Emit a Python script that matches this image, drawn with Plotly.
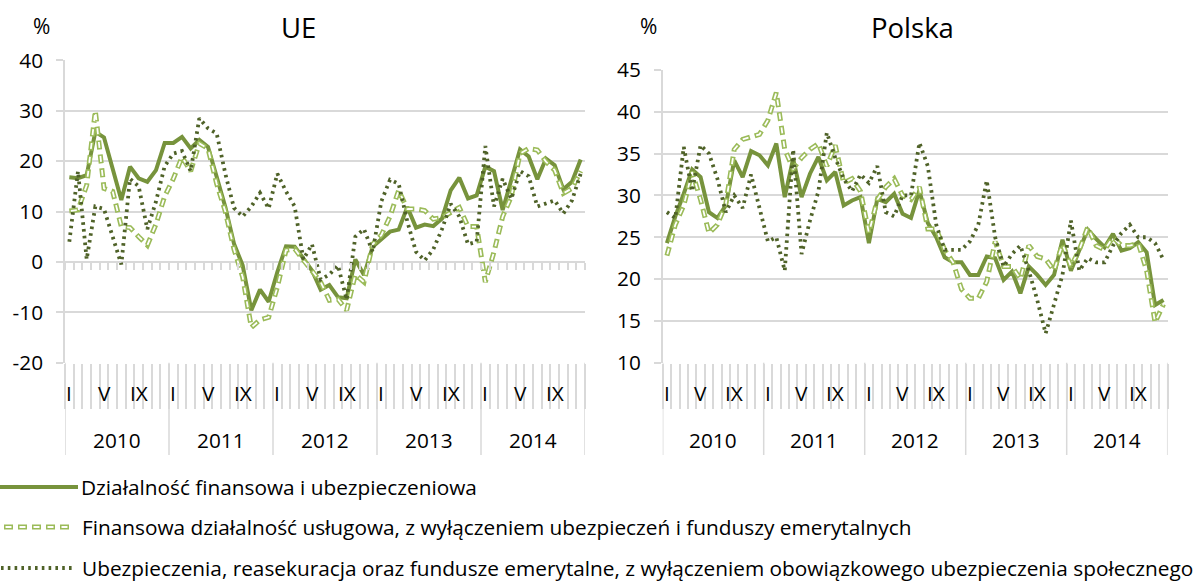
import plotly.graph_objects as go

# ---------------- data ----------------
years = ["2010", "2011", "2012", "2013", "2014"]
month_labels = ["I", "II", "III", "IV", "V", "VI", "VII", "VIII", "IX", "X", "XI", "XII"]
shown_months = ["I", "V", "IX"]
ue_ticks = [-20, -10, 0, 10, 20, 30, 40]
ue_ticklabels = ["-20", "-10", "0", "10", "20", "30", "40"]
pl_ticks = [10, 15, 20, 25, 30, 35, 40, 45]
pl_ticklabels = ["10", "15", "20", "25", "30", "35", "40", "45"]

series_names = [
    "Działalność finansowa i ubezpieczeniowa",
    "Finansowa działalność usługowa, z wyłączeniem ubezpieczeń i funduszy emerytalnych",
    "Ubezpieczenia, reasekuracja oraz fundusze emerytalne, z wyłączeniem obowiązkowego ubezpieczenia społecznego",
]

ue_fin = [16.8, 16.6, 17.2, 25.8, 24.7, 18.5, 12.3, 18.9, 16.6, 15.9,
          18.2, 23.6, 23.6, 24.8, 22.5, 24.2, 22.8, 16.9, 10.9, 3.6,
          -0.7, -9.6, -5.5, -7.9, -2.0, 3.1, 3.0, 0.7, -1.7, -5.5,
          -4.6, -7.0, -7.2, 0.5, -2.6, 3.0, 4.6, 6.0, 6.4, 10.9,
          6.8, 7.4, 7.1, 8.6, 14.2, 16.7, 12.6, 13.2, 18.9, 18.0,
          10.3, 16.2, 22.3, 20.9, 16.4, 20.5, 19.2, 14.4, 15.9, 20.3]

ue_serv = [10.1, 10.3, 15.2, 30.0, 14.6, 14.0, 7.0, 6.8, 5.0, 3.3,
           7.5, 13.0, 16.5, 20.8, 18.0, 23.5, 22.5, 15.5, 10.0, 2.5,
           -3.0, -13.0, -11.5, -11.0, -5.0, 2.3, 2.6, 0.3, -1.7, -4.0,
           -7.6, -7.4, -9.6, -2.5, -4.0, 3.5, 5.3, 9.0, 14.2, 10.5,
           10.5, 10.2, 8.5, 8.8, 9.8, 10.8, 7.0, 7.0, -4.0, 2.0,
           9.0, 13.0, 21.5, 22.5, 22.2, 19.9, 18.2, 13.6, 14.6, 18.0]

ue_ins = [4.0, 18.0, 0.5, 11.0, 10.5, 5.0, -0.5, 16.5, 15.0, 6.5,
          12.0, 19.0, 21.5, 22.0, 18.0, 28.5, 26.5, 25.5, 17.5, 10.7,
          9.0, 11.0, 13.7, 10.6, 17.5, 14.0, 11.0, 0.5, 3.5, -3.5,
          -2.5, -0.7, -7.5, 5.0, 6.5, 2.0, 12.0, 16.3, 15.5, 8.0,
          2.0, 0.3, 2.5, 6.5, 11.5, 9.0, 3.5, 4.0, 23.0, 11.0,
          16.5, 12.5, 18.0, 17.0, 11.0, 11.6, 12.2, 9.6, 12.2, 17.5]

pl_fin = [24.3, 27.5, 30.2, 33.1, 32.2, 28.0, 27.3, 28.8, 34.2, 32.2,
          35.3, 34.8, 33.6, 36.2, 29.8, 34.4, 29.8, 32.6, 34.6, 31.8,
          32.8, 28.8, 29.4, 29.8, 24.3, 29.6, 29.2, 30.2, 27.8, 27.3,
          30.6, 26.7, 25.0, 22.6, 22.0, 22.0, 20.5, 20.5, 22.7, 22.5,
          19.9, 20.9, 18.3, 21.5, 20.5, 19.3, 20.5, 24.7, 21.0, 23.5,
          25.9, 24.8, 23.8, 25.4, 23.4, 23.7, 24.4, 23.2, 16.9, 17.5]

pl_serv = [22.8, 26.5, 28.8, 32.8, 29.5, 25.5, 26.5, 29.0, 35.5, 36.7,
           37.0, 37.3, 39.0, 42.3, 35.5, 33.2, 34.5, 35.5, 36.2, 33.5,
           36.0, 31.5, 32.0, 30.5, 25.5, 29.5, 31.0, 32.0, 30.0, 29.5,
           31.0, 26.0, 26.0, 23.5, 22.0, 18.8, 17.7, 17.7, 19.7, 24.5,
           21.5, 21.5, 20.0, 24.0, 22.7, 22.4, 21.0, 24.2, 21.5, 23.5,
           26.2, 24.0, 23.5, 25.0, 24.0, 24.0, 24.3, 21.0, 14.8, 17.0]

pl_ins = [28.0, 27.3, 35.8, 30.5, 36.0, 35.0, 32.0, 28.0, 30.0, 28.5,
          32.5, 28.5, 24.5, 25.0, 21.0, 35.5, 23.0, 27.0, 30.5, 37.5,
          34.5, 32.0, 30.5, 32.5, 31.5, 33.5, 28.0, 27.5, 30.0, 30.0,
          36.3, 33.5, 26.5, 23.5, 23.5, 23.5, 24.5, 26.5, 31.8, 25.0,
          21.5, 23.0, 24.0, 21.0, 17.5, 13.5, 17.0, 20.5, 27.0, 21.0,
          22.5, 22.0, 22.0, 24.0, 25.5, 26.5, 25.0, 25.0, 24.3, 22.3]

# ---------------- style ----------------
W, H = 1201, 583
FONT = "'Open Sans', 'Noto Sans', sans-serif"
FS = 20.8
C_FIN = "#77933C"
C_SERV = "#9BBB59"
C_INS = "#4F6228"
GRID = "#d9d9d9"
DOT = "2.6px,4.2px"

def px(X):
    return X / W

def py(Y):
    return 1 - Y / H

n = len(years) * len(month_labels)
xs = list(range(n))

panels = [
    dict(name="UE", xa="x", ya="y", xd=[px(65), px(585)], yd=[py(362.7), py(60.3)],
         yr=[-20, 40], tv=ue_ticks, tt=ue_ticklabels, data=(ue_fin, ue_serv, ue_ins),
         title_x=298, pct_x=41),
    dict(name="Polska", xa="x2", ya="y2", xd=[px(662.7), px(1167.7)], yd=[py(362.7), py(70)],
         yr=[10, 45], tv=pl_ticks, tt=pl_ticklabels, data=(pl_fin, pl_serv, pl_ins),
         title_x=912, pct_x=648),
]

fig = go.Figure()
shapes = []
annotations = []

for k, p in enumerate(panels):
    fin, serv, ins = p["data"]
    common = dict(x=xs, xaxis=p["xa"], yaxis=p["ya"], mode="lines", showlegend=False,
                  hoverinfo="skip")
    fig.add_trace(go.Scatter(y=fin, name=series_names[0],
                             line=dict(color=C_FIN, width=4), **common))
    fig.add_trace(go.Scatter(y=serv, name=series_names[1],
                             line=dict(color=C_SERV, width=5, dash="9px,5px"), **common))
    fig.add_trace(go.Scatter(y=serv, name=series_names[1] + " (wn)",
                             line=dict(color="white", width=1.8, dash="0px,1.5px,6px,6.5px"), **common))
    fig.add_trace(go.Scatter(y=ins, name=series_names[2],
                             line=dict(color=C_INS, width=3.8, dash=DOT), **common))

    sfx = "" if k == 0 else "2"
    fig.update_layout(**{
        "xaxis" + sfx: dict(domain=p["xd"], anchor=p["ya"], range=[-0.5, n - 0.5],
                            showgrid=False, zeroline=False, showline=False,
                            tickmode="array", tickvals=[i - 0.5 for i in range(n + 1)],
                            ticks="outside", ticklen=45, tickwidth=1.5, tickcolor=GRID,
                            showticklabels=False, fixedrange=True, automargin=False),
        "yaxis" + sfx: dict(domain=p["yd"], anchor=p["xa"], range=p["yr"],
                            tickmode="array", tickvals=p["tv"], ticktext=p["tt"],
                            showgrid=True, gridcolor=GRID, gridwidth=1.5, zeroline=False,
                            showline=True, linecolor=GRID, linewidth=1.5,
                            ticks="outside", ticklen=7, tickwidth=1.5, tickcolor=GRID,
                            ticklabelstandoff=9,
                            tickfont=dict(family=FONT, size=FS, color="black"),
                            fixedrange=True, automargin=False),
    })

    # vertical lines of the category label area (axis start + year dividers)
    for b in range(len(years) + 1):
        shapes.append(dict(type="line", xref=p["xa"], yref="paper",
                           x0=b * 12 - 0.5, x1=b * 12 - 0.5, y0=py(362.7), y1=py(455),
                           line=dict(color=GRID, width=1.5)))
    # month & year labels
    for yi, yr in enumerate(years):
        for m, lab in enumerate(month_labels):
            if lab in shown_months:
                annotations.append(dict(x=yi * 12 + m, y=py(393), xref=p["xa"], yref="paper",
                                        text=lab, showarrow=False,
                                        font=dict(family=FONT, size=FS, color="black"),
                                        xanchor="center", yanchor="middle"))
        annotations.append(dict(x=yi * 12 + 5.5, y=py(440), xref=p["xa"], yref="paper",
                                text=yr, showarrow=False,
                                font=dict(family=FONT, size=FS, color="black"),
                                xanchor="center", yanchor="middle"))
    # titles
    annotations.append(dict(x=px(p["title_x"]), y=py(27), xref="paper", yref="paper",
                            text=p["name"], showarrow=False,
                            font=dict(family=FONT, size=27.5, color="black"),
                            xanchor="center", yanchor="middle"))
    annotations.append(dict(x=px(p["pct_x"]), y=py(26), xref="paper", yref="paper",
                            text="%", showarrow=False,
                            font=dict(family=FONT, size=21, color="black"),
                            xanchor="center", yanchor="middle"))

# small tick marks on the UE horizontal axis crossing at 0
ue_lo, ue_hi = panels[0]["yr"]
yd0, yd1 = panels[0]["yd"]
zero_pos = yd0 + (0 - ue_lo) / (ue_hi - ue_lo) * (yd1 - yd0)
fig.update_layout(xaxis3=dict(overlaying="x", anchor="free", position=zero_pos,
                              range=[-0.5, n - 0.5], showgrid=False, zeroline=False,
                              showline=False, tickmode="array",
                              tickvals=[i - 0.5 for i in range(n + 1)],
                              ticks="outside", ticklen=7, tickwidth=1.5, tickcolor=GRID,
                              showticklabels=False, fixedrange=True, automargin=False))
fig.add_trace(go.Scatter(x=[None], y=[None], xaxis="x3", yaxis="y", showlegend=False,
                         hoverinfo="skip"))

# ---------------- legend (drawn) ----------------
leg_rows = [
    dict(Y=487, x0=0, x1=78, tx=79, line=[dict(color=C_FIN, width=4)]),
    dict(Y=527, x0=4, x1=72, tx=80, line=[dict(color=C_SERV, width=5, dash="9px,5px"),
                                          dict(color="white", width=1.8, dash="0px,1.5px,6px,6.5px")]),
    dict(Y=568, x0=1, x1=74, tx=80, line=[dict(color=C_INS, width=3.8, dash=DOT)]),
]
for r, name in zip(leg_rows, series_names):
    for ln in r["line"]:
        shapes.append(dict(type="line", xref="paper", yref="paper",
                           x0=px(r["x0"]), x1=px(r["x1"]), y0=py(r["Y"]), y1=py(r["Y"]),
                           line=ln))
    annotations.append(dict(x=px(r["tx"]), y=py(r["Y"]), xref="paper", yref="paper",
                            text=name, showarrow=False,
                            font=dict(family=FONT, size=FS, color="black"),
                            xanchor="left", yanchor="middle"))

fig.update_layout(
    width=W, height=H,
    margin=dict(l=0, r=0, t=0, b=0, pad=0, autoexpand=False),
    paper_bgcolor="white", plot_bgcolor="white",
    shapes=shapes, annotations=annotations,
    showlegend=False,
    font=dict(family=FONT, color="black"),
)

fig.write_html("out.html", config={"displayModeBar": False},
               post_script="document.body.style.margin='0';document.body.style.overflow='hidden';")
